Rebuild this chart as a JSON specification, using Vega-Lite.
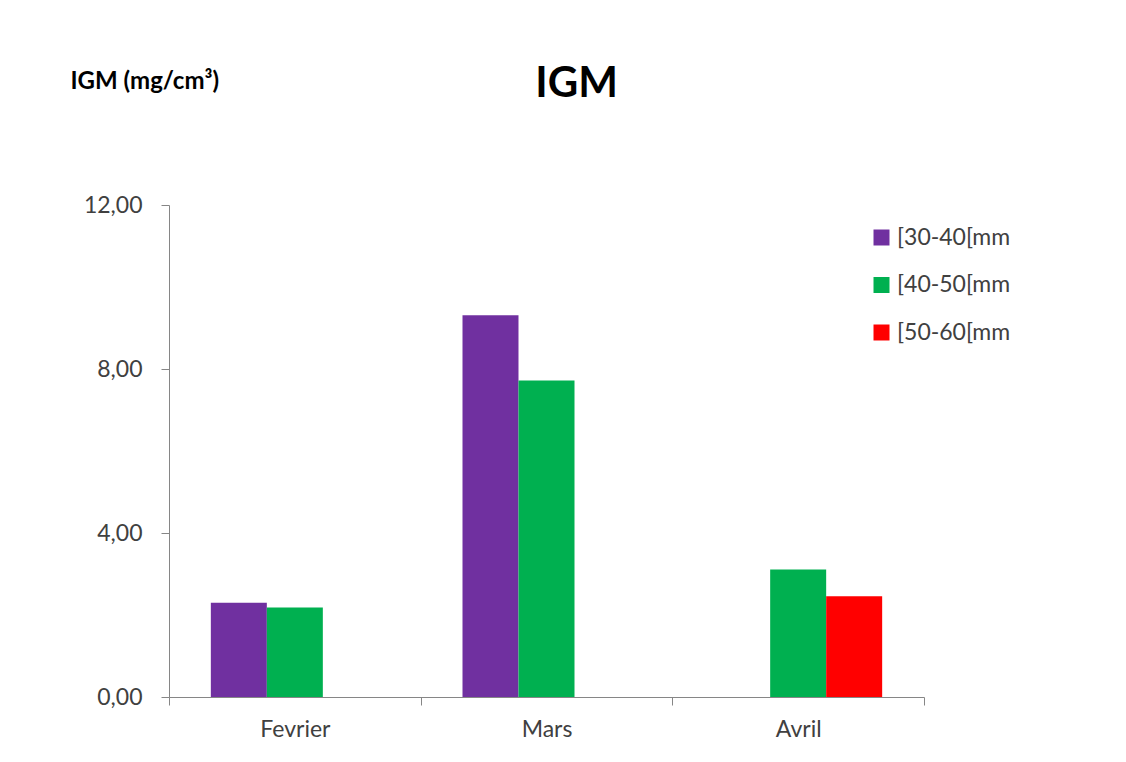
{
  "$schema": "https://vega.github.io/schema/vega-lite/v6.json",
  "width": 755,
  "height": 492,
  "autosize": {"type": "none"},
  "padding": {"left": 169, "top": 205, "right": 202, "bottom": 65},
  "background": "white",
  "title": {
    "text": "IGM",
    "font": "Lato",
    "fontSize": 42,
    "fontWeight": "bold",
    "color": "#000000",
    "anchor": "middle",
    "frame": "group",
    "baseline": "alphabetic",
    "offset": 0,
    "dy": 70,
    "dx": 30
  },
  "data": {
    "values": [
      {"mois": "Fevrier", "classe": "[30-40[mm", "igm": 2.30},
      {"mois": "Fevrier", "classe": "[40-50[mm", "igm": 2.18},
      {"mois": "Mars", "classe": "[30-40[mm", "igm": 9.31},
      {"mois": "Mars", "classe": "[40-50[mm", "igm": 7.72},
      {"mois": "Avril", "classe": "[40-50[mm", "igm": 3.11},
      {"mois": "Avril", "classe": "[50-60[mm", "igm": 2.46}
    ]
  },
  "mark": {"type": "bar"},
  "encoding": {
    "x": {
      "field": "mois",
      "type": "nominal",
      "sort": ["Fevrier", "Mars", "Avril"],
      "scale": {"paddingInner": 0, "paddingOuter": 0},
      "axis": {
        "title": null,
        "labelAngle": 0,
        "labelFont": "Lato",
        "labelFontSize": 23,
        "labelColor": "#404040",
        "labelPadding": 13,
        "tickBand": "extent",
        "tickSize": 8,
        "tickColor": "#868686",
        "domainColor": "#868686",
        "grid": false
      }
    },
    "xOffset": {
      "field": "classe",
      "type": "nominal",
      "scale": {"domain": ["[30-40[mm", "[40-50[mm", "[50-60[mm"], "paddingInner": 0, "paddingOuter": 0.747}
    },
    "y": {
      "field": "igm",
      "type": "quantitative",
      "scale": {"domain": [0, 12], "nice": false},
      "axis": {
        "title": "IGM (mg/cm³)",
        "titleAngle": 0,
        "titleAlign": "left",
        "titleBaseline": "alphabetic",
        "titleX": -99,
        "titleY": -117,
        "titleFont": "Lato",
        "titleFontSize": 24,
        "titleFontWeight": "bold",
        "titleColor": "#000000",
        "values": [0, 4, 8, 12],
        "labelExpr": "replace(format(datum.value, '.2f'), '.', ',')",
        "labelFont": "Lato",
        "labelFontSize": 23,
        "labelColor": "#404040",
        "labelPadding": 19,
        "tickSize": 8,
        "tickColor": "#868686",
        "domainColor": "#868686",
        "grid": false
      }
    },
    "color": {
      "field": "classe",
      "type": "nominal",
      "scale": {
        "domain": ["[30-40[mm", "[40-50[mm", "[50-60[mm"],
        "range": ["#7030A0", "#00B050", "#FF0000"]
      },
      "legend": {
        "title": null,
        "orient": "none",
        "legendX": 701,
        "legendY": 21,
        "symbolType": "square",
        "symbolSize": 256,
        "symbolStrokeWidth": 0,
        "labelFont": "Lato",
        "labelFontSize": 23,
        "labelColor": "#404040",
        "labelOffset": 4,
        "rowPadding": 23.5,
        "padding": 0
      }
    }
  },
  "config": {
    "view": {"stroke": null}
  }
}
